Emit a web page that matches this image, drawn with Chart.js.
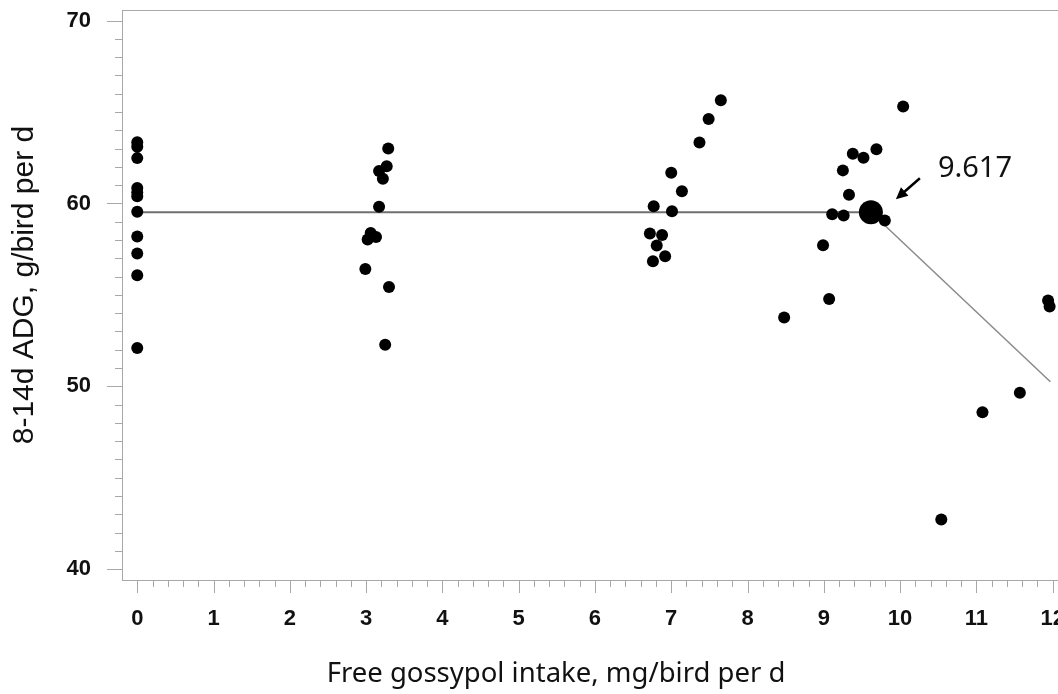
<!DOCTYPE html>
<html>
<head>
<meta charset="utf-8">
<script src="https://cdn.jsdelivr.net/npm/chart.js@4.4.0/dist/chart.umd.min.js"></script>
<style>
  html, body { margin: 0; padding: 0; background: #fff; }
  #wrap { width: 1058px; height: 694px; }
</style>
</head>
<body>
<div id="wrap"><canvas id="chart" width="1058" height="694"></canvas></div>
<script>
/* ── Data ── */
var xTicks = [0, 1, 2, 3, 4, 5, 6, 7, 8, 9, 10, 11, 12];
var yTicks = [40, 50, 60, 70];

var obsX = [
  0, 0, 0, 0, 0, 0, 0, 0, 0, 0, 0,
  3.29, 3.27, 3.17, 3.22, 3.17, 3.06, 3.13, 3.02, 2.99, 3.30, 3.25,
  7.65, 7.49, 7.37, 7.00, 7.14, 6.77, 7.01, 6.72, 6.88, 6.81, 6.92, 6.76,
  10.04, 9.69, 9.38, 9.52, 9.25, 9.33, 9.11, 9.26, 9.80, 8.99, 9.07, 8.48,
  10.54, 11.08, 11.57, 11.94, 11.96
];
var obsY = [
  63.35, 63.10, 62.48, 60.85, 60.60, 60.40, 59.55, 58.20, 57.26, 56.07, 52.10,
  63.00, 62.04, 61.77, 61.35, 59.82, 58.39, 58.17, 58.03, 56.42, 55.43, 52.27,
  65.64, 64.62, 63.34, 61.68, 60.67, 59.85, 59.58, 58.36, 58.27, 57.70, 57.11, 56.84,
  65.30, 62.96, 62.72, 62.50, 61.81, 60.48, 59.41, 59.34, 59.07, 57.72, 54.78, 53.77,
  42.72, 48.58, 49.65, 54.70, 54.37
];

// broken-line fit: plateau, then decline after the break point
var plateauX = [0, 9.617];
var plateauY = [59.52, 59.52];
var declineX = [9.617, 11.97];
var declineY = [59.52, 50.25];
var breakX = 9.617;
var breakY = 59.52;
var breakLabel = "9.617";

var xTitle = "Free gossypol intake, mg/bird per d";
var yTitle = "8-14d ADG, g/bird per d";

(function () {
  "use strict";

  function toPoints(xs, ys) {
    return xs.map(function (x, i) { return { x: x, y: ys[i] }; });
  }

  var tickFont = { family: "'Liberation Sans', Arial, sans-serif", size: 22, weight: "bold" };

  /* ── Frame, tick marks, titles, annotation ── */
  var decorations = {
    id: "decorations",
    beforeDatasetsDraw: function (chart) {
      var ctx = chart.ctx;
      var a = chart.chartArea;
      var xs = chart.scales.x, ys = chart.scales.y;
      ctx.save();
      ctx.strokeStyle = "#a8a8a8";
      ctx.lineWidth = 1;
      ctx.beginPath();
      // top line, left axis, bottom axis
      ctx.moveTo(a.left, a.top + 0.5); ctx.lineTo(a.right, a.top + 0.5);
      ctx.moveTo(a.left + 0.5, a.top); ctx.lineTo(a.left + 0.5, a.bottom);
      ctx.moveTo(a.left, a.bottom + 0.5); ctx.lineTo(a.right, a.bottom + 0.5);
      // y ticks every 1, long every 10
      for (var v = yTicks[0]; v <= yTicks[yTicks.length - 1]; v++) {
        var py = Math.round(ys.getPixelForValue(v)) + 0.5;
        var len = (v % 10 === 0) ? 15 : 7;
        ctx.moveTo(a.left - len, py); ctx.lineTo(a.left, py);
      }
      // x ticks every 0.2, long at integers
      for (var i = 0; i <= xTicks[xTicks.length - 1] * 5; i++) {
        var px = Math.round(xs.getPixelForValue(i / 5)) + 0.5;
        var l2 = (i % 5 === 0) ? 13 : 7;
        ctx.moveTo(px, a.bottom); ctx.lineTo(px, a.bottom + l2);
      }
      ctx.stroke();

      ctx.fillStyle = "#111";
      // y title
      ctx.save();
      ctx.translate(33, 285);
      ctx.rotate(-Math.PI / 2);
      ctx.font = "30px 'Liberation Sans', Arial, sans-serif";
      ctx.textAlign = "center";
      ctx.textBaseline = "alphabetic";
      ctx.fillText(yTitle, 0, 0);
      ctx.restore();
      // x title
      ctx.font = "27.5px 'Noto Sans', sans-serif";
      ctx.textAlign = "center";
      ctx.textBaseline = "alphabetic";
      ctx.fillText(xTitle, 556, 682);
      ctx.restore();
    },
    afterDatasetsDraw: function (chart) {
      var ctx = chart.ctx;
      var bx = chart.scales.x.getPixelForValue(breakX);
      var by = chart.scales.y.getPixelForValue(breakY);
      ctx.save();
      // arrow towards the break point
      var tipX = bx + 25, tipY = by - 13;
      var tailX = bx + 49, tailY = by - 34;
      var ang = Math.atan2(tipY - tailY, tipX - tailX);
      ctx.strokeStyle = "#000";
      ctx.fillStyle = "#000";
      ctx.lineWidth = 2.5;
      ctx.beginPath();
      ctx.moveTo(tailX, tailY);
      ctx.lineTo(tipX - 6 * Math.cos(ang), tipY - 6 * Math.sin(ang));
      ctx.stroke();
      ctx.beginPath();
      ctx.moveTo(tipX, tipY);
      ctx.lineTo(tipX - 13 * Math.cos(ang - 0.45), tipY - 13 * Math.sin(ang - 0.45));
      ctx.lineTo(tipX - 13 * Math.cos(ang + 0.45), tipY - 13 * Math.sin(ang + 0.45));
      ctx.closePath();
      ctx.fill();
      // label
      ctx.font = "29px 'Noto Sans', sans-serif";
      ctx.fillStyle = "#111";
      ctx.textAlign = "left";
      ctx.textBaseline = "alphabetic";
      ctx.fillText(breakLabel, bx + 67, by - 35);
      ctx.restore();
    }
  };

  /* ── Chart ── */
  new Chart(document.getElementById("chart").getContext("2d"), {
    type: "scatter",
    data: {
      datasets: [
        {
          label: "plateau",
          data: toPoints(plateauX, plateauY),
          showLine: true,
          borderColor: "#707070",
          borderWidth: 2,
          pointRadius: 0,
          order: 3
        },
        {
          label: "decline",
          data: toPoints(declineX, declineY),
          showLine: true,
          borderColor: "#8a8a8a",
          borderWidth: 1.5,
          pointRadius: 0,
          order: 3
        },
        {
          label: "observed",
          data: toPoints(obsX, obsY),
          backgroundColor: "#000",
          borderWidth: 0,
          pointRadius: 6,
          order: 2
        },
        {
          label: "break",
          data: [{ x: breakX, y: breakY }],
          backgroundColor: "#000",
          borderWidth: 0,
          pointRadius: 12,
          order: 1
        }
      ]
    },
    options: {
      responsive: false,
      animation: false,
      devicePixelRatio: 1,
      layout: { autoPadding: false, padding: { top: 10, left: 0, right: 0, bottom: 0 } },
      plugins: { legend: { display: false }, tooltip: { enabled: false } },
      scales: {
        x: {
          type: "linear",
          min: -0.2,
          max: 12.07,
          grid: { display: false, drawTicks: false },
          border: { display: false },
          ticks: {
            stepSize: 1,
            includeBounds: false,
            autoSkip: false,
            maxRotation: 0,
            padding: 26,
            color: "#111",
            font: tickFont
          },
          afterFit: function (s) { s.height = 114; s.paddingLeft = 0; s.paddingRight = 0; }
        },
        y: {
          type: "linear",
          min: 39.41,
          max: 70.58,
          grid: { display: false, drawTicks: false },
          border: { display: false },
          ticks: {
            stepSize: 10,
            includeBounds: false,
            padding: 31,
            color: "#111",
            font: tickFont
          },
          afterFit: function (s) { s.width = 122; s.paddingTop = 0; s.paddingBottom = 0; }
        }
      }
    },
    plugins: [decorations]
  });
})();
</script>
</body>
</html>
